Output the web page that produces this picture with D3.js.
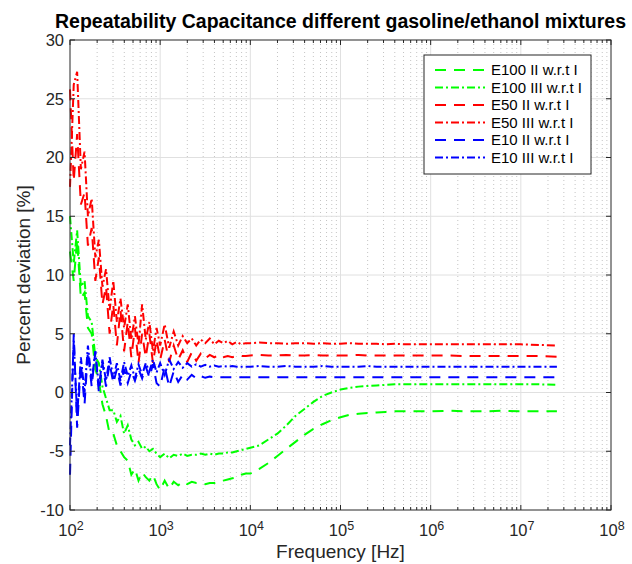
<!DOCTYPE html>
<html>
<head>
<meta charset="utf-8">
<script src="https://cdn.jsdelivr.net/npm/d3@7"></script>
<style>
  body { margin: 0; background: #fff; }
  text { font-family: "Liberation Sans", Arial, sans-serif; fill: #262626; }
</style>
</head>
<body>
<div id="chart"></div>
<script>
// Frequencies shared by every series [Hz]
const freqHz = [
  100,110,120,132,145,158,174,191,209,229,251,275,302,331,363,398,437,479,525,575,631,692,759,832,912,
  1000,1122,1259,1413,1585,1778,1995,2239,2512,2818,3162,3548,3981,4467,5012,5623,6310,7079,7943,8913,
  10000,12589,15849,19953,25119,31623,39811,50119,63096,79433,100000,125893,158489,199526,251189,316228,398107,501187,630957,794328,
  1e6,1584893,2511886,3981072,6309573,1e7,15848932,25118864
];

// Percent deviation [%]
const e100II = [
  12,9.5,13,8,8.5,5.5,5,2,1,-1,-2,-3.5,-3.5,-4.5,-5,-5.5,-5.8,-7,-6.5,-7.5,-6.8,-7.2,-7.5,-7,-7.8,
  -8.3,-7.5,-8.2,-7.6,-7.9,-7.6,-7.8,-7.6,-7.7,-7.7,-7.8,-7.7,-7.7,-7.6,-7.5,-7.4,-7.3,-7.2,-7.0,-6.9,
  -6.9,-6.5,-6.0,-5.4,-4.8,-4.2,-3.6,-3.1,-2.7,-2.35,-2.1,-1.9,-1.8,-1.75,-1.7,-1.65,-1.6,-1.6,-1.6,-1.6,
  -1.6,-1.55,-1.6,-1.6,-1.55,-1.6,-1.6,-1.6
];
const e100III = [
  15,11,13.8,9,9.5,6.5,6,3,2.5,0.5,-0.5,-1.5,-1.5,-2.5,-2,-3.5,-2.8,-4,-4.5,-4.2,-4.8,-4.6,-5,-4.8,-5.2,
  -5.5,-5.2,-5.6,-5.3,-5.4,-5.2,-5.4,-5.3,-5.3,-5.2,-5.3,-5.2,-5.3,-5.2,-5.2,-5.1,-5.1,-5.0,-4.9,-4.8,
  -4.7,-4.5,-4.0,-3.5,-2.8,-2.0,-1.4,-0.8,-0.3,0.0,0.25,0.4,0.5,0.55,0.6,0.65,0.7,0.7,0.7,0.7,
  0.7,0.7,0.7,0.7,0.7,0.7,0.7,0.65
];
const e50II = [
  25.8,18,22,16,17,12.5,14,9.5,11.5,7.5,9,5,7.5,4,7,3.5,6,3,5.5,2.5,5,3,5,2.5,4.5,
  2.8,4.5,2.6,4,2.8,3.6,2.6,3.4,2.7,3.3,2.9,3.2,3,3.2,3,3.1,3,3.1,3.1,3.1,
  3.15,3.2,3.15,3.15,3.2,3.15,3.15,3.2,3.15,3.15,3.15,3.15,3.2,3.15,3.15,3.15,3.15,3.15,3.15,3.15,
  3.15,3.15,3.1,3.1,3.1,3.1,3.1,3.05
];
const e50III = [
  17.5,26.2,27.3,19,20.5,15,16.5,11.5,13,9,10.5,7,9.5,6,8,5.5,7.5,4.5,6.5,4,7.5,4.5,6,3.5,5.5,
  4,5.8,3.8,5.2,4,4.8,4.2,4.6,4,4.5,4.2,4.6,4.1,4.4,4.2,4.4,4.1,4.3,4.1,4.2,
  4.2,4.25,4.2,4.2,4.15,4.2,4.2,4.15,4.2,4.15,4.15,4.2,4.15,4.15,4.15,4.1,4.15,4.1,4.1,4.1,
  4.1,4.1,4.1,4.1,4.1,4.1,4.05,4.0
];
const e10II = [
  -7,5,-3,2.5,-1,3.5,0.5,3.5,0,2.5,0.5,2.5,0.8,2,0.6,2,0.8,1.8,1,2,1.2,2.2,1.3,2.4,0.8,
  0.5,2.2,0.5,1.8,0.9,1.5,1.1,1.5,1.2,1.4,1.25,1.35,1.3,1.3,1.3,1.3,1.3,1.3,1.3,1.3,
  1.3,1.3,1.3,1.3,1.3,1.3,1.3,1.3,1.3,1.3,1.3,1.3,1.3,1.3,1.3,1.3,1.3,1.3,1.3,1.3,
  1.3,1.3,1.3,1.3,1.3,1.3,1.3,1.3
];
const e10III = [
  -4.5,4.5,-2,3,0,4,1,3.5,0.5,2.8,1,3,1.2,2.5,1,2.6,1.4,2.3,1.2,2.4,1.5,2.5,1.8,2.8,1.7,
  2.5,1.5,2.8,2,2.6,2.1,2.5,2.2,2.4,2.2,2.35,2.2,2.3,2.2,2.25,2.2,2.25,2.2,2.2,2.2,
  2.2,2.25,2.2,2.2,2.25,2.2,2.2,2.2,2.25,2.2,2.2,2.2,2.2,2.25,2.2,2.2,2.2,2.2,2.2,2.2,
  2.2,2.2,2.2,2.2,2.2,2.2,2.2,2.2
];

const seriesNames = ["E100 II w.r.t I", "E100 III w.r.t I", "E50 II w.r.t I",
                     "E50 III w.r.t I", "E10 II w.r.t I", "E10 III w.r.t I"];
const seriesValues = [e100II, e100III, e50II, e50III, e10II, e10III];
const seriesColors = ["#00ff00", "#00ff00", "#ff0000", "#ff0000", "#0000ff", "#0000ff"];
const seriesDash = ["11,8", "8,3,2,3", "11,8", "8,3,2,3", "11,8", "8,3,2,3"];

const yTicks = [-10, -5, 0, 5, 10, 15, 20, 25, 30];
const xTickExps = [2, 3, 4, 5, 6, 7, 8];

const margin = { top: 40, right: 21, bottom: 54, left: 70 };
const width = 632 - margin.left - margin.right;
const height = 564 - margin.top - margin.bottom;

const svg = d3.select("#chart")
  .append("svg")
  .attr("width", 632)
  .attr("height", 564)
  .append("g")
  .attr("transform", `translate(${margin.left},${margin.top})`);

const x = d3.scaleLog().domain([1e2, 1e8]).range([0, width]);
const y = d3.scaleLinear().domain([-10, 30]).range([height, 0]);

// minor x positions 2..9 per decade
const minorX = [];
xTickExps.slice(0, -1).forEach(e => {
  for (let k = 2; k <= 9; k++) minorX.push(k * Math.pow(10, e));
});
const majorX = xTickExps.map(e => Math.pow(10, e));

// grid
svg.append("g").selectAll("line")
  .data(minorX).enter().append("line")
  .attr("x1", d => x(d)).attr("x2", d => x(d))
  .attr("y1", 0).attr("y2", height)
  .attr("stroke", "#c4c4c4").attr("stroke-width", 1)
  .attr("stroke-dasharray", "1,3");

svg.append("g").selectAll("line")
  .data(majorX.slice(1, -1)).enter().append("line")
  .attr("x1", d => x(d)).attr("x2", d => x(d))
  .attr("y1", 0).attr("y2", height)
  .attr("stroke", "#e0e0e0").attr("stroke-width", 1);

svg.append("g").selectAll("line")
  .data(yTicks.slice(1, -1)).enter().append("line")
  .attr("x1", 0).attr("x2", width)
  .attr("y1", d => y(d)).attr("y2", d => y(d))
  .attr("stroke", "#e0e0e0").attr("stroke-width", 1);

// lines
const line = d3.line()
  .x((d, i) => x(freqHz[i]))
  .y(d => y(d));

seriesValues.forEach((vals, i) => {
  svg.append("path")
    .datum(vals)
    .attr("fill", "none")
    .attr("stroke", seriesColors[i])
    .attr("stroke-width", 2)
    .attr("stroke-dasharray", seriesDash[i])
    .attr("d", line);
});

// axes box with inward ticks
const axisColor = "#262626";
const box = svg.append("g");
box.append("rect")
  .attr("width", width).attr("height", height)
  .attr("fill", "none").attr("stroke", axisColor).attr("stroke-width", 1);

[0, height].forEach((yy, side) => {
  const dir = side === 0 ? 1 : -1;
  box.append("g").selectAll("line")
    .data(majorX).enter().append("line")
    .attr("x1", d => x(d)).attr("x2", d => x(d))
    .attr("y1", yy).attr("y2", yy + dir * 5)
    .attr("stroke", axisColor);
  box.append("g").selectAll("line")
    .data(minorX).enter().append("line")
    .attr("x1", d => x(d)).attr("x2", d => x(d))
    .attr("y1", yy).attr("y2", yy + dir * 3)
    .attr("stroke", axisColor);
});
[0, width].forEach((xx, side) => {
  const dir = side === 0 ? 1 : -1;
  box.append("g").selectAll("line")
    .data(yTicks).enter().append("line")
    .attr("x1", xx).attr("x2", xx + dir * 5)
    .attr("y1", d => y(d)).attr("y2", d => y(d))
    .attr("stroke", axisColor);
});

// tick labels
svg.append("g").selectAll("text")
  .data(yTicks).enter().append("text")
  .attr("x", -6).attr("y", d => y(d))
  .attr("dy", "0.36em")
  .attr("text-anchor", "end")
  .style("font-size", "16.5px")
  .text(d => d);

const xl = svg.append("g").selectAll("text")
  .data(xTickExps).enter().append("text")
  .attr("x", d => x(Math.pow(10, d)) + 1)
  .attr("y", height + 26)
  .attr("text-anchor", "middle")
  .style("font-size", "16.5px");
xl.append("tspan").text("10");
xl.append("tspan").attr("dy", "-0.5em").style("font-size", "12.5px").text(d => d);

// axis titles
svg.append("text")
  .attr("x", width / 2).attr("y", height + 48)
  .attr("text-anchor", "middle")
  .style("font-size", "19px")
  .text("Frequency [Hz]");

svg.append("text")
  .attr("transform", "rotate(-90)")
  .attr("x", -height / 2).attr("y", -40)
  .attr("text-anchor", "middle")
  .style("font-size", "19px")
  .text("Percent deviation [%]");

svg.append("text")
  .attr("x", width / 2).attr("y", -12)
  .attr("text-anchor", "middle")
  .style("font-size", "19.5px")
  .style("font-weight", "bold")
  .style("fill", "#000")
  .text("Repeatability Capacitance different gasoline/ethanol mixtures");

// legend
const legend = svg.append("g").attr("transform", `translate(${424 - margin.left},${55 - margin.top})`);
legend.append("rect")
  .attr("width", 167).attr("height", 119)
  .attr("fill", "#fff").attr("stroke", axisColor).attr("stroke-width", 1);

seriesNames.forEach((name, i) => {
  const ly = 15 + i * 17.5;
  legend.append("line")
    .attr("x1", 11).attr("x2", 61)
    .attr("y1", ly).attr("y2", ly)
    .attr("stroke", seriesColors[i])
    .attr("stroke-width", 2)
    .attr("stroke-dasharray", seriesDash[i]);
  legend.append("text")
    .attr("x", 67).attr("y", ly)
    .attr("dy", "0.36em")
    .style("font-size", "15px")
    .style("fill", "#000")
    .text(name);
});
</script>
</body>
</html>
